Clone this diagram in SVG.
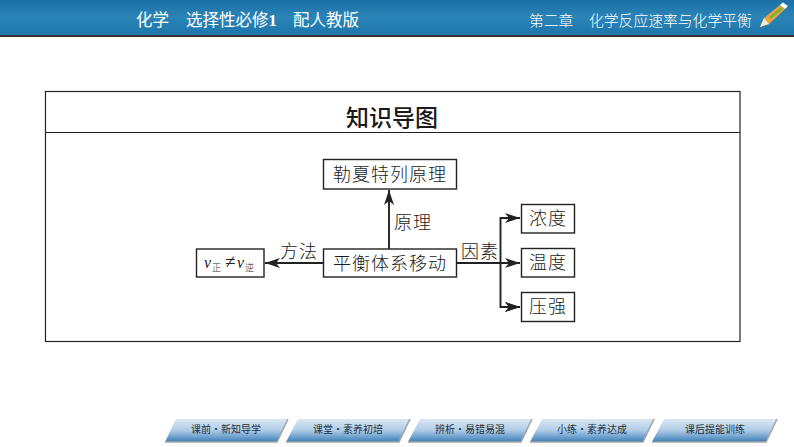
<svg xmlns="http://www.w3.org/2000/svg" width="794" height="447" viewBox="0 0 794 447">
<style>
.z{font-family:"Noto Sans CJK SC","Liberation Sans",sans-serif;fill:#1a1a1a}
.n{fill:#fff;stroke:#222;stroke-width:1.4}
.l{font-size:18px;text-anchor:middle;font-weight:300;letter-spacing:1px}
.h{font-family:"Noto Sans CJK SC","Liberation Sans",sans-serif;fill:#fff}
.c{fill:none;stroke:#222;stroke-width:1.9}
.t{fill:url(#tab);stroke:none}
.ts{fill:none;stroke:#a5a5a5;stroke-width:1.6}
.tl{font-family:"Noto Sans CJK SC","Liberation Sans",sans-serif;font-size:10px;text-anchor:middle;fill:#24303c}
</style>
<defs>
<linearGradient id="hd" x1="0" y1="0" x2="0" y2="1"><stop offset="0" stop-color="#1c70a6"/><stop offset="0.5" stop-color="#2b84b6"/><stop offset="1" stop-color="#1c76ac"/></linearGradient>
<linearGradient id="tab" x1="0" y1="0" x2="0" y2="1"><stop offset="0" stop-color="#dbe8f4"/><stop offset="0.5" stop-color="#aecbe6"/><stop offset="1" stop-color="#3a7fb8"/></linearGradient>
<marker id="a" markerUnits="userSpaceOnUse" markerWidth="16" markerHeight="12" refX="15" refY="6" orient="auto"><path d="M0 1L15 6L0 11L4 6Z" fill="#222"/></marker>
</defs>
<g id="header">
<rect width="794" height="35" fill="url(#hd)"/>
<rect y="35" width="794" height="2" fill="#333"/>
<text class="h" x="136" y="26" font-size="16.500">化学</text>
<text class="h" x="186" y="26" font-size="16.500">选择性必修<tspan font-family="Liberation Serif,serif" font-weight="700">1</tspan></text>
<text class="h" x="293" y="26" font-size="16.500">配人教版</text>
<text class="h" x="529" y="26" font-size="14.800" font-weight="300">第二章</text>
<text class="h" x="589" y="26" font-size="14.800" font-weight="300">化学反应速率与化学平衡</text>
<g id="pencil">
<path d="M760 27L764 18L780 5L785 9L769 24Z" fill="#e9a53a"/>
<path d="M780 5L783 2.500L788 6L785 9Z" fill="#fff"/>
<path d="M760 27L764 18L769 24Z" fill="#f4ead6"/>
<path d="M770 18L782 8" stroke="#7fae3c" stroke-width="2.500"/>
</g>
</g>
<g id="frame">
<rect x="45.500" y="91.500" width="694.500" height="250" fill="#fff" stroke="#222" stroke-width="1.200"/>
<line x1="45.500" y1="132.500" x2="740" y2="132.500" stroke="#222" stroke-width="1"/>
<text class="z" x="392" y="126" font-size="23" text-anchor="middle" font-weight="500" fill="#111">知识导图</text>
</g>
<g id="connectors">
<path class="c" d="M389 249V190" marker-end="url(#a)"/>
<path class="c" d="M323 263H265" marker-end="url(#a)"/>
<path class="c" d="M457 263H520" marker-end="url(#a)"/>
<path class="c" d="M520 218H500.500V307H520" marker-end="url(#a)"/>
<path class="c" d="M500 218H520" marker-end="url(#a)"/>
<path class="c" d="M500 307H520" marker-end="url(#a)"/>
<text class="z l" x="413" y="229">原理</text>
<text class="z l" x="299" y="258">方法</text>
<text class="z l" x="480" y="258">因素</text>
</g>
<g id="n1"><rect class="n" x="323.500" y="159.500" width="133" height="29.500"/><text class="z l" x="390" y="181">勒夏特列原理</text></g>
<g id="n2"><rect class="n" x="323.500" y="249" width="133" height="28"/><text class="z l" x="390" y="270">平衡体系移动</text></g>
<g id="n3"><rect class="n" x="196.500" y="249" width="67.500" height="28"/>
<text x="204" y="268" font-family="Liberation Serif,serif" font-style="italic" font-size="16" fill="#222">v</text>
<text class="z" x="212" y="271" font-size="9" font-weight="300">正</text>
<text x="225" y="268" font-family="Liberation Serif,serif" font-size="19" fill="#222">≠</text>
<text x="237" y="268" font-family="Liberation Serif,serif" font-style="italic" font-size="16" fill="#222">v</text>
<text class="z" x="245" y="271" font-size="9" font-weight="300">逆</text></g>
<g id="n4"><rect class="n" x="521.500" y="204.500" width="53" height="28.500"/><text class="z l" x="548" y="225">浓度</text></g>
<g id="n5"><rect class="n" x="521.500" y="248.500" width="53" height="28.500"/><text class="z l" x="548" y="269">温度</text></g>
<g id="n6"><rect class="n" x="521.500" y="292.500" width="53" height="29"/><text class="z l" x="548" y="313">压强</text></g>
<g id="tabs">
<g id="tab1"><path class="t" d="M176 419H288L277 442H165Z"/><path class="ts" d="M288 419L277 442H165"/><text class="tl" x="226" y="433">课前·新知导学</text></g>
<g id="tab2"><path class="t" d="M298 419H410L399 442H286Z"/><path class="ts" d="M410 419L399 442H286"/><text class="tl" x="348" y="433">课堂·素养初培</text></g>
<g id="tab3"><path class="t" d="M420 419H532L521 442H408Z"/><path class="ts" d="M532 419L521 442H408"/><text class="tl" x="470" y="433">辨析·易错易混</text></g>
<g id="tab4"><path class="t" d="M542 419H654L643 442H530Z"/><path class="ts" d="M654 419L643 442H530"/><text class="tl" x="592" y="433">小练·素养达成</text></g>
<g id="tab5"><path class="t" d="M664 419H777L766 442H652Z"/><path class="ts" d="M777 419L766 442H652"/><text class="tl" x="715" y="433">课后提能训练</text></g>
</g>
</svg>
